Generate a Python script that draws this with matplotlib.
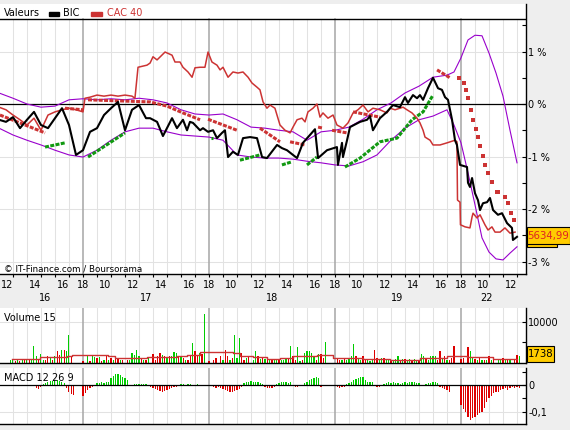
import matplotlib
matplotlib.use("Agg")
import matplotlib.pyplot as plt
import numpy as np
from matplotlib.patches import Rectangle
from matplotlib.transforms import blended_transform_factory

plt.rcParams["font.family"] = ["DejaVu Sans"]
plt.rcParams["font.size"] = 7

W, H = 570, 430

# x = trading hours counted from the 16th 09:00, one session = 09:00 -> 18:00
SESSIONS = ["16", "17", "18", "19", "22"]
SESSION_START = [0, 9, 18, 27, 36]
DAY_LABEL_X = [6.3, 13.5, 22.5, 31.4, 37.8]
HOUR_LABELS = [10, 12, 14, 16, 18]

# prices in % vs reference (time in trading hours, value)
bic_t = [3.0, 3.5, 4.0, 4.5, 5.0, 5.5, 6.0, 6.5, 7.0, 7.5, 8.0, 8.5, 9.0, 9.5,
         10.0, 10.5, 11.0, 11.5, 12.0, 12.5, 13.0, 13.5, 13.79, 14.29, 14.71,
         15.36, 15.71, 16.14, 16.43, 16.64, 16.86, 17.36, 17.57, 17.93, 18.29,
         18.57, 18.93, 19.14, 19.36, 19.71, 20.07, 20.43, 20.93, 21.43, 21.79,
         22.14, 22.86, 23.21, 23.57, 24.0, 24.29, 24.71, 25.21, 25.57, 25.79,
         26.43, 27.14, 27.21, 27.5, 27.57, 27.86, 28.07, 28.79, 29.29, 29.5,
         29.71, 30.21, 30.71, 31.14, 31.64, 32.0, 32.21, 32.57, 32.86, 33.07,
         33.29, 33.64, 34.0, 34.36, 34.64, 34.86, 35.07, 35.36, 35.57, 35.71,
         35.93, 36.43, 36.5, 36.64, 36.79, 37.0, 37.21, 37.36, 37.57, 37.86,
         38.07, 38.29, 38.64, 38.93, 39.29, 39.64, 39.71, 40.0]
bic = [-0.30, -0.34, -0.25, -0.46, -0.30, -0.15, -0.40, -0.46, -0.27, -0.08,
       -0.40, -0.97, -0.88, -0.53, -0.46, -0.21, -0.08, 0.04, -0.50, -0.11,
       -0.02, -0.27, -0.27, -0.34, -0.61, -0.27, -0.46, -0.30, -0.50, -0.34,
       -0.36, -0.50, -0.46, -0.53, -0.50, -0.65, -0.55, -0.50, -1.01, -0.91,
       -0.97, -0.65, -0.63, -0.65, -1.01, -1.03, -0.78, -0.84, -0.88, -0.97,
       -1.03, -0.74, -0.59, -0.48, -1.03, -0.88, -0.82, -1.16, -0.74, -1.01,
       -0.69, -0.44, -0.34, -0.30, -0.23, -0.50, -0.27, -0.15, -0.02, -0.06,
       0.13, 0.02, 0.17, 0.11, 0.17, 0.08, 0.30, 0.50, 0.30, 0.27, 0.13, 0.08,
       -0.30, -0.69, -0.78, -1.16, -1.20, -1.50, -1.58, -1.41, -1.70, -1.83,
       -2.02, -1.89, -1.87, -1.79, -2.02, -2.11, -2.08, -2.27, -2.36, -2.59,
       -2.53]
cac_t = [3.0, 3.5, 4.0, 4.5, 5.0, 5.5, 6.0, 6.5, 7.0, 7.5, 8.0, 8.5, 9.0, 9.14,
         9.5, 10.0, 10.5, 11.0, 11.5, 12.0, 12.5, 12.71, 12.93, 13.57, 13.79,
         14.0, 14.29, 14.86, 15.36, 15.57, 15.93, 16.14, 16.5, 16.79, 17.0,
         17.36, 17.71, 17.93, 18.21, 18.57, 18.79, 19.0, 19.36, 19.71, 20.07,
         20.43, 20.79, 21.07, 21.43, 21.64, 21.86, 22.14, 22.36, 22.71, 23.07,
         23.43, 23.79, 24.0, 24.29, 24.64, 24.86, 25.07, 25.43, 25.71, 25.93,
         26.14, 26.5, 26.86, 27.14, 27.57, 27.93, 28.29, 28.64, 29.0, 29.36,
         29.71, 30.21, 30.71, 30.93, 31.29, 31.64, 31.86, 32.14, 32.5, 32.86,
         33.07, 33.29, 33.43, 33.79, 34.0, 34.5, 35.0, 35.57, 35.71, 35.75,
         35.93, 35.96, 36.29, 36.64, 36.79, 36.86, 37.14, 37.36, 37.71, 37.93,
         38.21, 38.43, 38.79, 39.14, 39.5, 39.86]
cac = [-0.06, -0.11, -0.21, -0.30, -0.40, -0.27, -0.50, -0.21, -0.15, -0.11,
       -0.08, -0.11, -0.15, 0.11, 0.13, 0.17, 0.15, 0.17, 0.15, 0.17, 0.15,
       0.11, 0.70, 0.74, 0.78, 0.90, 0.84, 0.99, 0.93, 0.80, 0.80, 0.70, 0.61,
       0.51, 0.69, 0.70, 0.70, 0.99, 0.80, 0.74, 0.65, 0.70, 0.51, 0.61, 0.59,
       0.61, 0.51, 0.40, 0.32, 0.27, 0.04, -0.08, -0.02, -0.08, -0.40, -0.50,
       -0.55, -0.44, -0.30, -0.27, -0.34, -0.15, -0.08, 0.00, -0.25, -0.17,
       -0.27, -0.21, -0.40, -0.46, -0.36, -0.17, -0.11, -0.02, -0.15, -0.08,
       -0.11, -0.17, -0.08, -0.11, -0.08, -0.06, -0.11, -0.17, -0.27, -0.36,
       -0.50, -0.63, -0.69, -0.78, -0.78, -0.74, -0.69, -0.72, -1.83, -1.87,
       -2.30, -2.34, -2.36, -2.15, -2.08, -2.17, -2.11, -2.30, -2.40, -2.34,
       -2.44, -2.44, -2.36, -2.46, -2.44]

# bollinger bands: hourly, then every 30 min over the last session
band_t = [3, 4, 5, 6, 7, 8, 9, 10, 11, 12, 13, 14, 15, 16, 17, 18, 19, 20, 21,
          22, 23, 24, 25, 26, 27, 28, 29, 30, 31, 32, 33, 34, 35,
          35.5, 36, 36.5, 37, 37.5, 38, 38.5, 39, 39.5, 40]
band_up = [0.21, 0.11, 0.00, -0.06, -0.04, 0.08, 0.10, 0.08, 0.10, 0.08, 0.11,
           0.08, 0.02, -0.11, -0.19, -0.21, -0.19, -0.30, -0.44, -0.46, -0.50,
           -0.53, -0.69, -0.53, -0.50, -0.44, -0.29, -0.11, 0.02, 0.21, 0.34,
           0.51, 0.55, 0.61, 0.88, 1.22, 1.31, 1.30, 0.97, 0.59, 0.15, -0.50,
           -1.12]
band_lo = [-0.46, -0.59, -0.69, -0.78, -0.88, -0.97, -1.01, -0.88, -0.69, -0.53,
           -0.46, -0.46, -0.53, -0.59, -0.61, -0.63, -0.69, -0.97, -1.01, -1.03,
           -1.03, -1.05, -1.09, -1.12, -1.16, -1.18, -1.10, -0.97, -0.69, -0.46,
           -0.30, -0.23, -0.11, -0.40, -0.74, -1.31, -1.92, -2.55, -2.82, -2.95,
           -2.97, -2.84, -2.72]

# parabolic SAR runs (time, %), red above price, green below
sar_red = [
    [(3.07, -0.21), (6.29, -0.55)],
    [(7.71, -0.08), (9.0, -0.11)],
    [(9.36, 0.08), (13.79, 0.04), (15.0, -0.04), (16.14, -0.17), (17.36, -0.30)],
    [(17.93, -0.29), (20.0, -0.50)],
    [(21.64, -0.46), (23.07, -0.72)],
    [(23.79, -0.72), (24.86, -0.78)],
    [(25.79, -0.44), (26.14, -0.46)],
    [(26.79, -0.50), (27.86, -0.55)],
    [(28.29, -0.15), (30.21, -0.25)],
    [(34.29, 0.65), (35.21, 0.50)],
]
sar_green = [
    [(6.29, -0.82), (7.71, -0.74)],
    [(9.36, -1.01), (12.0, -0.55)],
    [(18.14, -0.65), (18.29, -0.65)],
    [(20.21, -1.07), (21.64, -0.97)],
    [(23.21, -1.16), (23.93, -1.10)],
    [(25.0, -1.16), (25.71, -1.01)],
    [(27.71, -1.20), (28.79, -1.03), (30.21, -0.72), (31.43, -0.65),
     (32.5, -0.30), (33.29, -0.15), (34.0, 0.17)],
]
sar_last_t = [35.86, 36.21, 36.36, 36.5, 36.71, 36.86, 37.07, 37.21, 37.36, 37.57,
              37.71, 37.93, 38.21, 38.57, 38.64, 39.14, 39.36, 39.57, 39.79]
sar_last_v = [0.50, 0.40, 0.27, 0.11, -0.11, -0.30, -0.48, -0.63, -0.80, -0.99,
              -1.16, -1.31, -1.49, -1.68, -1.68, -1.77, -1.89, -2.08, -2.21]

# volume, 10-min bars, per session: start time, values, g = up / r = down
vol_start = [3.83, 9.0, 18.0, 27.0, 36.0]
vol = [
    [810, 810, 400, 1060, 570, 810, 810, 810, 980, 810, 4230, 1630, 810, 2280,
     810, 650, 1790, 1220, 810, 1630, 2850, 2030, 3250, 3250, 2850, 6750, 1630],
    [400, 0, 1790, 400, 2030, 1460, 1220, 1460, 400, 810, 1790, 810, 1220, 810,
     1460, 1220, 810, 810, 0, 810, 810, 2440, 2030, 3250, 1790, 1220, 810, 650,
     1220, 0, 2280, 810, 1790, 2440, 2030, 1630, 1220, 1630, 1790, 2600, 2440,
     1630, 1630, 1220, 810, 810, 1630, 4880, 2850, 2030, 2440, 2200, 12030],
    [400, 0, 810, 1220, 0, 1790, 650, 3090, 1630, 810, 1220, 6800, 1220, 6100,
     2440, 810, 1220, 1630, 0, 810, 2850, 1630, 980, 1220, 980, 980, 810, 810,
     810, 810, 650, 810, 810, 980, 980, 4070, 1790, 810, 3900, 400, 650, 2440,
     2850, 2850, 2440, 1790, 810, 2280, 2280, 1220, 5120],
    [0, 1220, 650, 810, 1220, 810, 980, 1630, 4720, 1630, 980, 810, 1790, 980,
     810, 400, 810, 3090, 1220, 810, 1220, 1220, 810, 980, 810, 810, 980, 1630,
     810, 980, 980, 810, 980, 810, 980, 810, 810, 2280, 1630, 980, 810, 1630,
     1630, 1630, 810, 2850, 980, 1790, 810, 810, 1220, 4070],
    [980, 1220, 0, 3900, 2850, 1220, 980, 810, 1220, 810, 810, 810, 1630, 810,
     980, 0, 980, 810, 1220, 810, 980, 810, 0, 810, 2030, 1790],
]
vol_dir = [
    "ggrgrgrgrgggrggrrgrgrrgrggr",
    "rggrggrgrgrgrgrrgrgrgggggrgrggrrrrgrgrgggrgrgrrgrrgrg",
    "rgrrgrgrrgrgggrrgrgggrgrgrgrggrgggrgrrggrgggggrgrrg",
    "grrgrggggrggrrgggrrggrggrgggrgrggrggrggrggggrrgrgrrr",
    "rrgrggrgrgrgrgrgggrgrggrrg",
]
# volume 15-period average, stepped (start time, value)
vol_ma_t = [3.93, 5.93, 7.86, 8.21, 10.79, 11.29, 13.57, 15.71, 16.43, 17.36,
            19.71, 20.21, 21.14, 22.14, 23.07, 24.0, 25.71, 26.86, 29.0, 30.93,
            33.07, 35.0, 36.43, 38.29, 40.0]
vol_ma = [980, 1460, 1630, 2030, 1630, 1220, 1460, 1630, 2030, 2600, 2440, 1630,
          1380, 1060, 1220, 1630, 2030, 1220, 980, 810, 1220, 1630, 1460, 1060,
          1060]

# MACD 12 26 9 histogram, 10-min bars, per session
macd = [
    [0, 0, 0, 0, 0, 0, 0, 0, 0, 0, 0, -0.012, -0.015, -0.008, 0.004, 0.006,
     0.010, 0.014, 0.016, 0.018, 0.018, 0.016, 0.012, 0.006, -0.010, -0.025,
     -0.035, -0.038],
    [-0.04, -0.03, -0.02, -0.01, -0.006, -0.004, 0.006, 0.008, 0.01, 0.008,
     0.01, 0.012, 0.025, 0.035, 0.041, 0.041, 0.038, 0.03, 0.025, 0.02,
     -0.005, -0.004, 0.002, 0.004, 0.004, 0.005, 0.004, 0.003, -0.003, -0.006,
     -0.01, -0.015, -0.02, -0.023, -0.025, -0.024, -0.02, -0.015, -0.01, -0.008,
     -0.006, -0.004, 0.004, 0.002, -0.004, 0.004, 0.005, -0.004, -0.003, 0.003,
     -0.004],
    [0, 0, -0.006, -0.01, -0.006, -0.012, -0.015, -0.02, -0.024, -0.027,
     -0.027, -0.024, -0.02, -0.015, -0.008, 0.006, 0.01, 0.012, 0.014, 0.012,
     0.012, 0.01, 0.008, 0.002, -0.006, -0.01, -0.012, -0.01, -0.006, 0.004,
     0.008, 0.01, 0.01, 0.01, 0.009, 0.01, -0.004, -0.006, -0.006, -0.004,
     -0.004, 0.006, 0.012, 0.018, 0.022, 0.026, 0.031, 0.025, -0.006, -0.005,
     0],
    [0, -0.006, -0.01, -0.008, -0.006, 0.002, 0.006, 0.012, 0.018, 0.022,
     0.026, 0.03, 0.031, 0.02, 0.01, 0.012, 0.01, -0.004, -0.006, -0.006,
     -0.004, 0.004, 0.006, 0.01, 0.008, 0.01, 0.008, 0.006, 0.004, 0.008,
     0.01, 0.008, 0.01, 0.012, 0.01, 0.008, 0.006, -0.003, -0.004, 0.003,
     0.006, 0.008, 0.01, 0.012, 0.008, -0.006, -0.01, -0.015, -0.02, -0.025,
     0],
    [-0.075, -0.09, -0.10, -0.12, -0.13, -0.125, -0.12, -0.113, -0.106, -0.10,
     -0.085, -0.065, -0.05, -0.04, -0.03, -0.025, -0.028, -0.02, -0.015, -0.012,
     -0.02, -0.013, -0.008, -0.01, -0.006, -0.012],
]

last_cac = "5634,99"
last_vol = "1738"

RED = "#cc3333"
PURPLE = "#9900cc"
GREEN_SAR = "#119911"
BAR_G = "#00cc00"
BAR_R = "#dd0000"
GRID = "#e2e2e2"
SEP = "#a6a6a6"
YELLOW = "#ffcc00"

fig = plt.figure(figsize=(W / 100, H / 100), dpi=100)
fig.patch.set_facecolor("#eeeeee")

xlim = (43 / 14, 569 / 14)


def frame(ax, ymax=1.0):
    ax.set_xlim(*xlim)
    for s in ("left", "top"):
        ax.spines[s].set_visible(False)
    for s in ("right", "bottom"):
        ax.spines[s].set_linewidth(1.0)
    for x in range(4, 41):
        if x in SESSION_START:
            ax.axvline(x, color=SEP, lw=1.1, ymax=ymax, zorder=0.6)
        else:
            ax.axvline(x, color=GRID, lw=0.75, ymax=ymax, zorder=0.5)
    ax.set_xticks(range(4, 41))
    ax.set_xticklabels([])
    ax.yaxis.tick_right()
    ax.tick_params(axis="x", direction="out", length=2.2, width=0.8)
    ax.tick_params(axis="y", which="both", direction="in", length=3,
                   width=0.8, pad=1.5, labelsize=7)


# ---- price panel ----------------------------------------------------------
ax = fig.add_axes([0, 1 - 274 / H, 526 / W, 270 / H])
ax.set_ylim(-3.238, 1.905)
head = 1.619
frame(ax, ymax=(head + 3.238) / (1.905 + 3.238))
for y in (1, -1, -2, -3):
    ax.axhline(y, color=GRID, lw=0.75, zorder=0.5)
ax.axhline(0, color="black", lw=0.9, zorder=0.7)
ax.axhline(head, color="black", lw=1.0, zorder=0.7)
ax.set_yticks([-3, -2, -1, 0, 1])
ax.set_yticklabels(["-3 %", "-2 %", "-1 %", "0 %", "1 %"])
ax.set_yticks([-2.5, -1.5, -0.5, 0.5, 1.5], minor=True)

ax.plot(band_t, band_up, color=PURPLE, lw=0.8, zorder=2)
ax.plot(band_t, band_lo, color=PURPLE, lw=0.8, zorder=2)
for run in sar_red:
    t, v = zip(*run)
    ax.plot(t, v, color=RED, lw=2.2, dashes=(1.3, 0.45), zorder=3)
for run in sar_green:
    t, v = zip(*run)
    ax.plot(t, v, color=GREEN_SAR, lw=2.2, dashes=(1.3, 0.45), zorder=3)
ax.plot(sar_last_t, sar_last_v, "s", color=RED, ms=2.3, mew=0, zorder=3)

ax.plot(cac_t, cac, color=RED, lw=1.1, zorder=4)
ax.plot(bic_t, bic, color="black", lw=1.5, zorder=5)

# hour / day labels under the price panel
tr = blended_transform_factory(ax.transData, fig.transFigure)
for d, s in enumerate(SESSION_START):
    for h in HOUR_LABELS:
        x = s + h - 9
        if x < xlim[0] - 0.1 or x > xlim[1]:
            continue
        if h == 18:
            ax.text(x, 1 - 285 / H, "18", transform=tr, ha="center",
                    va="center", fontsize=7)
        else:
            ax.text(x + 0.15, 1 - 285 / H, str(h), transform=tr, ha="left",
                    va="center", fontsize=7)
    ax.text(DAY_LABEL_X[d], 1 - 298 / H, SESSIONS[d], transform=tr,
            ha="center", va="center", fontsize=7)

ax.text(4 / W, 1 - 268.5 / H, "\u00a9 IT-Finance.com / Boursorama",
        transform=fig.transFigure, fontsize=6.3, va="center")

# header legend
fig.text(4 / W, 1 - 12.5 / H, "Valeurs", va="center", fontsize=7)
fig.add_artist(Rectangle((49 / W, 1 - 16 / H), 10 / W, 4 / H,
                         transform=fig.transFigure, color="black"))
fig.text(63 / W, 1 - 12.5 / H, "BIC", va="center", fontsize=7)
fig.add_artist(Rectangle((91 / W, 1 - 16 / H), 11 / W, 4 / H,
                         transform=fig.transFigure, color=RED))
fig.text(107 / W, 1 - 12.5 / H, "CAC 40", va="center", fontsize=7, color=RED)

# last value boxes
fig.add_artist(Rectangle((527 / W, 1 - 247 / H), 30 / W, 10 / H,
                         transform=fig.transFigure, facecolor=YELLOW,
                         edgecolor="black", lw=0.8))
fig.add_artist(Rectangle((527 / W, 1 - 244 / H), 43 / W, 17 / H,
                         transform=fig.transFigure, facecolor=YELLOW,
                         edgecolor="black", lw=0.8))
fig.text(548.5 / W, 1 - 235.5 / H, last_cac, ha="center", va="center",
         fontsize=7.3, color="#dd2222")

# ---- volume panel ---------------------------------------------------------
axv = fig.add_axes([0, 1 - 363 / H, 526 / W, 55 / H])
axv.set_ylim(0, 13400)
frame(axv)
axv.axhline(10000, color=GRID, lw=0.75, zorder=0.5)
axv.set_yticks([10000])
axv.set_yticklabels(["10000"])
axv.set_yticks([5000], minor=True)
axv.tick_params(axis="x", length=0)
for start, vals, dirs in zip(vol_start, vol, vol_dir):
    t = start + np.arange(len(vals)) / 6
    cols = [BAR_G if c == "g" else BAR_R for c in dirs]
    axv.bar(t, vals, width=0.075, color=cols, linewidth=0, zorder=2)
axv.step(vol_ma_t, vol_ma, where="post", color=RED, lw=1.0, zorder=3)
axv.text(4 / W, 1 - 318 / H, "Volume 15", transform=fig.transFigure,
         fontsize=7, va="center")
fig.add_artist(Rectangle((527 / W, 1 - 362 / H), 27 / W, 16 / H,
                         transform=fig.transFigure, facecolor=YELLOW,
                         edgecolor="black", lw=0.8))
fig.text(540.5 / W, 1 - 354 / H, last_vol, ha="center", va="center",
         fontsize=7.3)

# ---- MACD panel -----------------------------------------------------------
axm = fig.add_axes([0, 1 - 424 / H, 526 / W, 56 / H])
axm.set_ylim(-0.146, 0.0637)
frame(axm)
axm.axhline(-0.1, color=GRID, lw=0.75, zorder=0.5)
axm.axhline(0, color="black", lw=0.9, zorder=3)
axm.set_yticks([-0.1, 0])
axm.set_yticklabels(["-0,1", "0"])
axm.set_yticks([-0.05, 0.05], minor=True)
axm.tick_params(axis="x", length=0)
for start, vals in zip(vol_start, macd):
    t = start + np.arange(len(vals)) / 6
    cols = [BAR_G if v >= 0 else BAR_R for v in vals]
    axm.bar(t, vals, width=0.075, color=cols, linewidth=0, zorder=2)
axm.text(4 / W, 1 - 378 / H, "MACD 12 26 9", transform=fig.transFigure,
         fontsize=7, va="center")

fig.savefig("out.png", dpi=100, facecolor=fig.get_facecolor())
